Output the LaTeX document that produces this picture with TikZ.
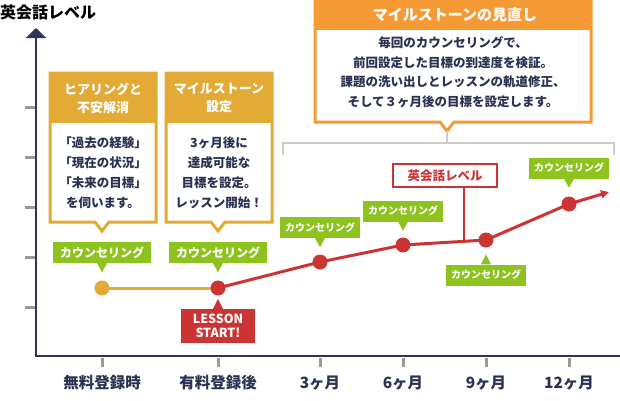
\documentclass[tikz,border=0pt]{standalone}
\usepackage{fontspec}
\setmainfont{Noto Sans CJK JP}
\usetikzlibrary{arrows.meta}
\usetikzlibrary{calc}
\definecolor{axiscol}{HTML}{2E3457}
\definecolor{textcol}{HTML}{2B3150}
\definecolor{goldcol}{HTML}{E3AA35}
\definecolor{orangecol}{HTML}{F59A34}
\definecolor{redcol}{HTML}{CC3333}
\definecolor{greencol}{HTML}{8DC21F}
\definecolor{tickcol}{HTML}{9A9A9A}
\definecolor{bracketcol}{HTML}{CCCCCC}
\tikzset{
  axis line/.style={axiscol,line width=2.5},
  axtick/.style={tickcol,line width=3},
  xlabel/.style={text=textcol,font=\fontsize{15.5}{18}\selectfont\bfseries},
  level line/.style={redcol,line width=3},
  dot/.style={circle,fill=redcol,minimum size=15,inner sep=0},
  counsel/.style={fill=greencol,text=white,inner sep=0,minimum width=98,minimum height=21,
                  font=\fontsize{12}{14}\selectfont\bfseries},
  counsel small/.style={counsel,minimum width=80,font=\fontsize{10}{12}\selectfont\bfseries},
  head text/.style={text=white,align=center,font=\fontsize{13}{18}\selectfont\bfseries},
  body text/.style={text=textcol,align=center,font=\fontsize{12.5}{20}\selectfont\bfseries},
}
% frame with an outlined pointer: colour, left, top, right, bottom, pointer x
\newcommand\callout[6]{
  \filldraw[fill=white,draw=#1,line width=3,line join=miter]
    (#2,#3) -- (#4,#3) -- (#4,#5) -- (#6+7,#5) -- (#6,#5+9) -- (#6-7,#5) -- (#2,#5) -- cycle;
}
\newcommand\tipdown[3]{
  \fill[#2] ($(#1.south)+(-5,0)$) -- ($(#1.south)+(5,0)$) -- ($(#1.south)+(0,#3)$) -- cycle;
}
\newcommand\tipup[3]{
  \fill[#2] ($(#1.north)+(-5,0)$) -- ($(#1.north)+(5,0)$) -- ($(#1.north)+(0,-#3)$) -- cycle;
}

\begin{document}
\begin{tikzpicture}[x=1pt,y=-1pt]
  \useasboundingbox (0,0) rectangle (620,400);
  \def\ax{36}                   % y axis position
  \def\ay{356}                  % x axis position

  % AXES
  \coordinate (ytop)   at (\ax,28);
  \coordinate (origin) at (\ax,\ay);
  \coordinate (xend)   at (620,\ay);
  \draw[axis line,{Triangle[width=20pt,length=10pt]}-] (ytop) -- (origin) -- (xend);
  \foreach \y in {107,157,207,257,307}{
    \draw[axtick] (25,\y) -- (34.5,\y);
  }
  \foreach \x/\lab [count=\i] in {102/無料登録時,218/有料登録後,320/3ヶ月,403/6ヶ月,486/9ヶ月,569/12ヶ月}{
    \draw[axtick] (\x,357.5) -- (\x,367);
    \node[xlabel] (xl\i) at (\x,383) {\lab};
  }
  \node[anchor=west,inner sep=0,font=\fontsize{16}{18}\selectfont\bfseries] (title) at (0,12) {英会話レベル};

  % LEVEL LINE
  \coordinate (c0) at (102,288);
  \coordinate (c1) at (218,288);
  \coordinate (c2) at (320,262);
  \coordinate (c3) at (403,245);
  \coordinate (c4) at (486,240);
  \coordinate (c5) at (569,204);
  \coordinate (cend) at (609,192);
  \draw[goldcol,line width=3] (c0) -- (c1);
  \draw[level line,-{Triangle[width=8pt,length=8pt]}] (c1) -- (c2) -- (c3) -- (c4) -- (c5) -- (cend);
  \node[dot,fill=goldcol] (d0) at (c0) {};
  \foreach \i in {1,...,5}{
    \node[dot] (d\i) at (c\i) {};
  }

  % COUNSELING LABELS
  \node[counsel] (g0) at (102,252.5) {カウンセリング};
  \node[counsel] (g1) at (218,252.5) {カウンセリング};
  \node[counsel small] (g2) at (320,227.5) {カウンセリング};
  \node[counsel small] (g3) at (403,211) {カウンセリング};
  \node[counsel small] (g4) at (486,275) {カウンセリング};
  \node[counsel small] (g5) at (569,168) {カウンセリング};
  \tipdown{g0}{greencol}{9}
  \tipdown{g1}{greencol}{9}
  \tipdown{g2}{greencol}{9}
  \tipdown{g3}{greencol}{9}
  \tipup{g4}{greencol}{10}
  \tipdown{g5}{greencol}{9}

  \node[fill=redcol,text=white,align=center,inner sep=0,minimum width=74,minimum height=34,
        font=\fontsize{12.5}{14}\selectfont\bfseries] (start) at (218,326) {LESSON\\START!};
  \tipup{start}{redcol}{10}

  % LEGEND
  \node[draw=redcol,line width=1.5,fill=white,text=redcol,minimum width=104,minimum height=23,
        inner sep=0,font=\fontsize{12.5}{14}\selectfont\bfseries] (legend) at (445,175.5) {英会話レベル};
  \coordinate (ltouch) at (464,240);
  \draw[redcol,line width=1.5] (legend.south -| ltouch) -- (ltouch);

  % CALLOUTS
  \callout{goldcol}{50}{73}{156}{222}{102}
  \fill[goldcol] (50,73) rectangle (156,123);
  \node[head text] (h1) at (103,98) {ヒアリングと\\不安解消};
  \node[body text] (b1) at (103,172.5) {「過去の経験」\\「現在の状況」\\「未来の目標」\\を伺います。};

  \callout{goldcol}{166}{73}{272}{222}{218}
  \fill[goldcol] (166,73) rectangle (272,123);
  \node[head text] (h2) at (219,98) {マイルストーン\\設定};
  \node[body text] (b2) at (219,172.5) {3ヶ月後に\\達成可能な\\目標を設定。\\レッスン開始！};

  \callout{orangecol}{315}{0}{591}{122}{447}
  \fill[orangecol] (315,0) rectangle (591,30);
  \node[head text,font=\fontsize{15}{18}\selectfont\bfseries] (h3) at (455,15) {マイルストーンの見直し};
  \node[body text,font=\fontsize{12.5}{19.5}\selectfont\bfseries] (b3) at (453,72)
    {毎回のカウンセリングで、\\前回設定した目標の到達度を検証。\\課題の洗い出しとレッスンの軌道修正、\\そして３ヶ月後の目標を設定します。};

  % BRACKET
  \coordinate (bt) at (447,131);
  \coordinate (bm) at (447,143);
  \coordinate (bl) at (283,143);
  \coordinate (br) at (614,143);
  \draw[bracketcol,line width=2.5] (bt) -- (bm);
  \draw[bracketcol,line width=2.5] ($(bl)+(0,12)$) -- (bl) -- (br) -- ($(br)+(0,12)$);
\end{tikzpicture}
\end{document}
